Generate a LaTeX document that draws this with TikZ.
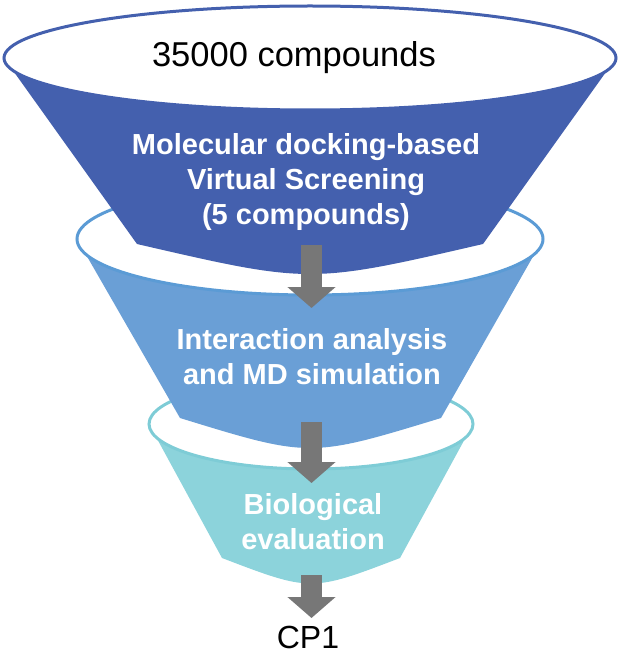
\documentclass[tikz,border=0pt]{standalone}
\usepackage{fontspec}
\setmainfont{Liberation Sans}
\usetikzlibrary{arrows.meta}
\definecolor{dockblue}{HTML}{4460AE}
\definecolor{mdblue}{HTML}{6A9FD6}
\definecolor{mdline}{HTML}{5B9BD5}
\definecolor{biocyan}{HTML}{8CD3DB}
\definecolor{bioline}{HTML}{7ECCD6}
\definecolor{arrowgray}{HTML}{777777}
\tikzset{
  rim/.style={fill=white,line width=3pt},
  title/.style={font=\fontsize{34.5}{40}\selectfont,text=black,inner sep=0pt},
  stage/.style={font=\fontsize{29}{35}\selectfont\bfseries,text=white,align=center,inner sep=0pt},
  down/.style={-{Triangle[width=47pt,length=21pt]},line width=21pt,draw=arrowgray}
}
\begin{document}
\begin{tikzpicture}[x=1pt,y=-1pt]
\useasboundingbox (0,0) rectangle (621,655);

\fill[biocyan] (149,424) -- (222,558) .. controls (311,592) .. (400,558) -- (473,424) -- cycle;
\draw[rim,draw=bioline] (311,424) ellipse [x radius=162,y radius=45];

\fill[mdblue] (77,239) -- (180,418) .. controls (310,458) .. (441,418) -- (543,239) -- cycle;
\draw[rim,draw=mdline] (310,239) ellipse [x radius=233,y radius=56];

\fill[dockblue] (4,58) -- (137,244) .. controls (310,284) .. (483,244) -- (616,58) -- cycle;
\draw[rim,draw=dockblue] (310,58) ellipse [x radius=306,y radius=52];

\node[title] (input) at (294,58) {35000 compounds};
\node[stage] (dock) at (306,182) {Molecular docking-based\\Virtual Screening\\(5 compounds)};
\node[stage] (md) at (312,357) {Interaction analysis\\and MD simulation};
\node[stage] (bio) at (313,522) {Biological\\evaluation};
\node[title,font=\fontsize{32}{38}\selectfont] (hit) at (308,637) {CP1};

\coordinate (dock-out) at (311.5,245);
\coordinate (md-in) at (311.5,308);
\coordinate (md-out) at (311.5,422);
\coordinate (bio-in) at (311.5,483);
\coordinate (bio-out) at (311.5,575);
\coordinate (hit-in) at (311.5,618);

\draw[down] (dock-out) -- (md-in);
\draw[down] (md-out) -- (bio-in);
\draw[down] (bio-out) -- (hit-in);
\end{tikzpicture}
\end{document}
